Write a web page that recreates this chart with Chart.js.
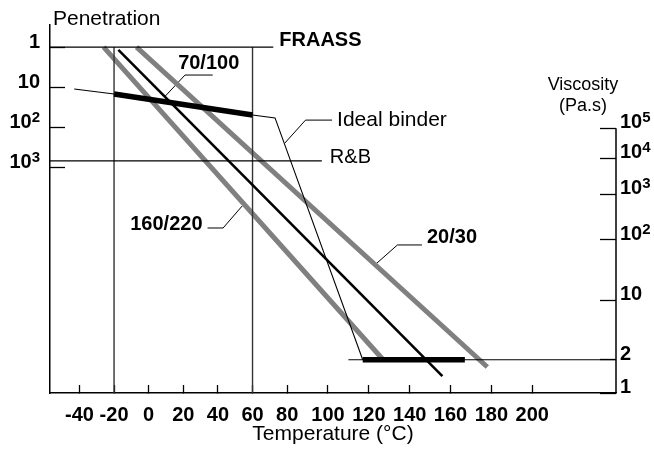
<!DOCTYPE html>
<html>
<head>
<meta charset="utf-8">
<script src="https://cdn.jsdelivr.net/npm/chart.js@4.4.1/dist/chart.umd.min.js"></script>
<style>
  html, body { margin: 0; padding: 0; background: #fff; }
  canvas { display: block; }
</style>
</head>
<body>
<canvas id="btdc" width="654" height="450"></canvas>
<script>
/* Bitumen test data chart: penetration / viscosity against temperature */

// ---- axes ----
const tempTicks = [-40, -20, 0, 20, 40, 60, 80, 100, 120, 140, 160, 180, 200];
const tempMin = -57;
const tempMax = 241;
const penTicks = [1, 10, 100, 1000];
const penTickLabels = ['1', '10', '10^2', '10^3'];
const penMin = 0.28;
const penMax = 4.5e8;
const viscTicks = [1, 2, 10, 100, 1e3, 1e4, 1e5];
const viscTickLabels = ['1', '2', '10', '10^2', '10^3', '10^4', '10^5'];
const viscMin = 1;
const viscMax = 1.1e10;

// ---- reference levels ----
const fraassPen = 1;
const fraassTemps = [tempMin, 72];
const rbPen = 700;
const rbTemps = [tempMin, 97];
const limitTemps = [-20, 60];
const mixVisc = 2;                 // Pa.s
const mixTemps = [110, tempMax];

// ---- binders ----
const idealTemps = [-43, -20, 60, 73, 117, 167];
const idealVisc = [3.8e6, 2.3e6, 3.1e5, 2.4e5, 2, 2];
const soft160Temps = [-26, 127];
const soft160Visc = [5.1e8, 2];
const pen70Temps = [-17.5, 156];
const pen70Visc = [3.5e8, 1.4];
const hard20Temps = [-7, 178];
const hard20Visc = [5.1e8, 1.7];

// ---- label leaders ----
const lead70Temps = [37, 21, 9.5];
const lead70Pen = [5, 5, 17];
const leadIdealTemps = [102, 89, 78.7];
const leadIdealPen = [67, 67, 251];
const lead160Temps = [34, 43, 54];
const lead160Visc = [171, 171, 520];
const lead20Temps = [146, 134, 123];
const lead20Visc = [79, 79, 35];

const FONT = "'Liberation Sans', Arial, Helvetica, sans-serif";

// temperature axis is stretched above 80 °C
const TEMP_BREAK = 80;
const TEMP_STRETCH = 1.18;
const bend = t => (t <= TEMP_BREAK ? t : TEMP_BREAK + (t - TEMP_BREAK) * TEMP_STRETCH);

class BentScale extends Chart.LinearScale {
  static id = 'bent';
  determineDataLimits() {
    super.determineDataLimits();
    this.min = bend(this.min);
    this.max = bend(this.max);
  }
  getPixelForValue(v) { return super.getPixelForValue(bend(v)); }
}

// viscosity axis: log(log(30·η))
const VISC_SHIFT = 30;
const loglog = v => Math.log10(Math.log10(VISC_SHIFT * v));

class LogLogScale extends Chart.LinearScale {
  static id = 'loglog';
  determineDataLimits() {
    super.determineDataLimits();
    this.min = loglog(this.min);
    this.max = loglog(this.max);
  }
  getPixelForValue(v) { return super.getPixelForValue(loglog(v)); }
}

Chart.register(BentScale, LogLogScale);

const pts = (xs, ys) => xs.map((x, i) => ({ x, y: Array.isArray(ys) ? ys[i] : ys }));

function line(data, yAxisID, color, width, extra) {
  return Object.assign({
    data, yAxisID, xAxisID: 'x',
    borderColor: color, borderWidth: width,
    pointRadius: 0, fill: false, tension: 0,
    borderCapStyle: 'butt',
  }, extra || {});
}

const datasets = [
  line(pts(idealTemps, idealVisc), 'yv', '#000', 1.1, {
    segment: { borderWidth: c => (c.p0DataIndex === 1 || c.p0DataIndex === 4 ? 5.5 : 1.1) },
  }),
  line(pts(pen70Temps, pen70Visc), 'yv', '#000', 2.6),
  line(pts(fraassTemps, fraassPen), 'yp', '#000', 1.2, {
    note: { text: 'FRAASS', at: 'last', bold: true, size: 20, align: 'left', dx: 6, dy: -7 },
  }),
  line(pts(rbTemps, rbPen), 'yp', '#000', 1.2, {
    note: { text: 'R&B', at: 'last', bold: false, size: 20, align: 'left', dx: 8, dy: -3 },
  }),
  ...limitTemps.map(t => line(pts([t, t], [fraassPen, penMax]), 'yp', '#333', 1.4)),
  line(pts(mixTemps, mixVisc), 'yv', '#000', 1.2),
  line(pts(soft160Temps, soft160Visc), 'yv', '#808080', 5),
  line(pts(hard20Temps, hard20Visc), 'yv', '#808080', 5),
  line(pts(lead70Temps, lead70Pen), 'yp', '#000', 1, {
    note: { text: '70/100', at: 'first', bold: true, size: 20, align: 'center', dx: -4, dy: -12 },
  }),
  line(pts(leadIdealTemps, leadIdealPen), 'yp', '#000', 1, {
    note: { text: 'Ideal binder', at: 'first', bold: false, size: 21, align: 'left', dx: 5, dy: 0 },
  }),
  line(pts(lead160Temps, lead160Visc), 'yv', '#000', 1, {
    note: { text: '160/220', at: 'first', bold: true, size: 20, align: 'right', dx: -5, dy: -4 },
  }),
  line(pts(lead20Temps, lead20Visc), 'yv', '#000', 1, {
    note: { text: '20/30', at: 'first', bold: true, size: 20, align: 'left', dx: 5, dy: -7 },
  }),
];

// power-of-ten tick labels ("10^3") with a raised exponent
function drawPowerLabels(ctx, scale, values, labels, x, align, dy) {
  ctx.textAlign = 'left';
  ctx.textBaseline = 'alphabetic';
  values.forEach((v, i) => {
    const [base, exp] = labels[i].split('^');
    const y = scale.getPixelForValue(v) + dy;
    ctx.font = 'bold 20px ' + FONT;
    const wb = ctx.measureText(base).width;
    ctx.font = 'bold 15px ' + FONT;
    const we = exp ? ctx.measureText(exp).width : 0;
    const left = align === 'right' ? x - wb - we : x;
    ctx.font = 'bold 20px ' + FONT;
    ctx.fillText(base, left, y);
    if (exp) {
      ctx.font = 'bold 15px ' + FONT;
      ctx.fillText(exp, left + wb, y - 6);
    }
  });
}

// labels at leader ends, y tick labels, right axis line, axis captions
const notesPlugin = {
  id: 'notes',
  afterDatasetsDraw(chart) {
    const { ctx, chartArea, scales } = chart;
    ctx.save();
    ctx.fillStyle = '#000';
    ctx.strokeStyle = '#000';

    const yTop = scales.yv.getPixelForValue(viscTicks[viscTicks.length - 1]);
    ctx.lineWidth = 1.5;
    ctx.beginPath();
    ctx.moveTo(chartArea.right, yTop);
    ctx.lineTo(chartArea.right, chartArea.bottom);
    ctx.stroke();

    chart.data.datasets.forEach((ds, i) => {
      const n = ds.note;
      if (!n) return;
      const els = chart.getDatasetMeta(i).data;
      const p = els[n.at === 'last' ? els.length - 1 : 0];
      ctx.font = (n.bold ? 'bold ' : '') + n.size + 'px ' + FONT;
      ctx.textAlign = n.align;
      ctx.textBaseline = 'middle';
      ctx.fillText(n.text, p.x + n.dx, p.y + n.dy);
    });

    drawPowerLabels(ctx, scales.yp, penTicks, penTickLabels, chartArea.left - 10, 'right', 1);
    drawPowerLabels(ctx, scales.yv, viscTicks, viscTickLabels, chartArea.right + 4, 'left', 0);

    ctx.textBaseline = 'alphabetic';
    ctx.font = '21px ' + FONT;
    ctx.textAlign = 'left';
    ctx.fillText('Penetration', chartArea.left + 3, chartArea.top);

    ctx.font = '18px ' + FONT;
    ctx.textAlign = 'center';
    ctx.fillText('Viscosity', chartArea.right - 33, yTop - 38);
    ctx.fillText('(Pa.s)', chartArea.right - 33, yTop - 17);
    ctx.restore();
  },
};

const tickFont = { family: FONT, size: 20, weight: 'bold' };
const noPad = s => { s.paddingTop = 0; s.paddingBottom = 0; s.paddingLeft = 0; s.paddingRight = 0; };

new Chart(document.getElementById('btdc'), {
  type: 'line',
  data: { datasets },
  options: {
    responsive: false,
    animation: false,
    events: [],
    layout: { padding: { top: 25, left: 0, right: 0, bottom: 0 } },
    plugins: { legend: { display: false }, tooltip: { enabled: false }, title: { display: false } },
    scales: {
      x: {
        type: 'bent',
        min: tempMin,
        max: tempMax,
        bounds: 'data',
        afterBuildTicks: s => { s.ticks = tempTicks.map(v => ({ value: v })); },
        afterFit: s => { s.height = 57; noPad(s); },
        grid: { drawOnChartArea: false, tickLength: -8, tickColor: '#000', tickWidth: 1.3 },
        border: { color: '#000', width: 1.5 },
        ticks: {
          autoSkip: false, maxRotation: 0, padding: 18, color: '#000', font: tickFont,
          callback: v => String(v),
        },
        title: {
          display: true, text: 'Temperature (°C)', color: '#000',
          font: { family: FONT, size: 21 }, padding: { top: 0, bottom: 3 },
        },
      },
      yp: {
        type: 'logarithmic',
        position: 'left',
        reverse: true,
        min: penMin,
        max: penMax,
        bounds: 'data',
        afterBuildTicks: s => { s.ticks = penTicks.map(v => ({ value: v })); },
        afterFit: s => { s.width = 50; noPad(s); },
        grid: { drawOnChartArea: false, tickLength: -15, tickColor: '#000', tickWidth: 1.3 },
        border: { color: '#000', width: 1.5 },
        ticks: { display: false },
      },
      yv: {
        type: 'loglog',
        position: 'right',
        min: viscMin,
        max: viscMax,
        bounds: 'data',
        afterBuildTicks: s => { s.ticks = viscTicks.map(v => ({ value: v })); },
        afterFit: s => { s.width = 38; noPad(s); },
        grid: { drawOnChartArea: false, tickLength: -16, tickColor: '#000', tickWidth: 1.3 },
        border: { display: false },
        ticks: { display: false },
      },
    },
  },
  plugins: [notesPlugin],
});
</script>
</body>
</html>
